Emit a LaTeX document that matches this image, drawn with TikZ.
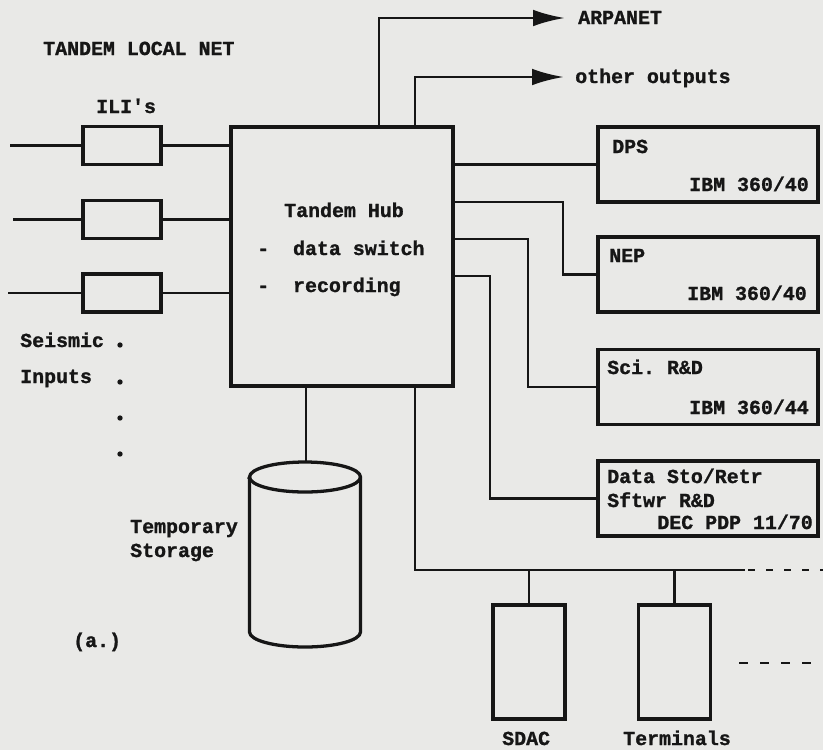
\documentclass[tikz,border=0pt]{standalone}
\usepackage{fontspec}
\setmonofont[BoldFeatures={FakeBold=1.2}]{Liberation Mono}
\usetikzlibrary{arrows.meta,positioning}
\definecolor{paper}{HTML}{E9E9E7}
\definecolor{ink}{HTML}{161616}

\begin{document}
\begin{tikzpicture}[x=0.03cm,y=-0.03cm,
      font=\ttfamily\bfseries\fontsize{17pt}{20pt}\selectfont,
      ln/.style={line width=2.5pt,draw=ink},
      b/.style={rectangle,draw=ink,line width=2.8pt,inner sep=0pt},
      ili/.style={b,minimum width=2.34cm,minimum height=1.14cm},
      sys/.style={b,minimum width=6.6cm,minimum height=2.25cm},
      dev/.style={b,minimum width=2.16cm,minimum height=3.42cm},
      t/.style={text=ink,inner sep=0pt,anchor=base west},
      tr/.style={t,anchor=base east},
      a/.style={ln,-{Latex[length=0.96cm,width=0.5cm]}}]
  \fill[paper] (0,0) rectangle (823,750);
  \useasboundingbox (0,0) rectangle (823,750);

  \node[t] (title) at (43,55) {TANDEM LOCAL NET};
  \node[t] (ilis)  at (96,113) {ILI's};
  \node[ili] (ili1) at (122,145.5) {};
  \node[ili] (ili2) at (122,219.5) {};
  \node[ili] (ili3) at (122,293) {};
  \coordinate (in1) at (ili1 -| 10,0);
  \coordinate (in2) at (ili2 -| 13,0);
  \coordinate (in3) at (ili3 -| 8,0);

  \node[b,line width=3pt,minimum width=6.66cm,minimum height=7.77cm] (hub) at (342,256.5) {};
  \node[t] (hubt) at (284,217) {Tandem Hub};
  \node[t] (sw)   at (257,255) {-~~data switch};
  \node[t] (rec)  at (257,292) {-~~recording};

  \draw[ln] (in1) -- (ili1) -- (ili1 -| hub.west);
  \draw[ln] (in2) -- (ili2) -- (ili2 -| hub.west);
  \draw[ln] (in3) -- (ili3) -- (ili3 -| hub.west);

  % outputs
  \node[t] (arpa) at (578,24) {ARPANET};
  \node[t] (oth)  at (575,83) {other outputs};
  \draw[a] (hub.north -| 379,0) |- ([shift={(-13,-6)}]arpa.base west);
  \draw[a] (hub.north -| 415,0) |- ([shift={(-11,-6)}]oth.base west);

  % host computers
  \node[sys] (dps) at (708,164.5) {};
  \node[sys] (nep) at (708,274.5) {};
  \node[sys] (sci) at (708,387) {};
  \node[sys] (dsr) at (708,498.5) {};
  \node[t]  (dpsn) at (612,153) {DPS};
  \node[tr] (dpsm) at (809,191) {IBM 360/40};
  \node[t]  (nepn) at (609,262) {NEP};
  \node[tr] (nepm) at (807,300) {IBM 360/40};
  \node[t]  (scin) at (607,374) {Sci. R\&D};
  \node[tr] (scim) at (809,414) {IBM 360/44};
  \node[t]  (dsrn) at (607,483) {Data Sto/Retr};
  \node[t]  (dsrs) at (607,507) {Sftwr R\&D};
  \node[tr] (dsrm) at (813,529) {DEC PDP 11/70};

  \draw[ln] (hub.east |- dps) -- (dps);
  \draw[ln] (hub.east |- 0,202) -| (563,0 |- nep) -- (nep);
  \draw[ln] (hub.east |- 0,239) -| (528,0 |- sci) -- (sci);
  \draw[ln] (hub.east |- 0,276) -| (490,0 |- dsr) -- (dsr);

  % local bus
  \coordinate (busend) at (745,570);
  \coordinate (busdot) at (823,570);
  \draw[ln] (hub.south -| 415,0) |- (busend);
  \draw[ln,dash pattern=on 0.21cm off 0.33cm] ([xshift=0.09cm]busend) -- (busdot);
  \node[dev] (sdac) at (529,662) {};
  \node[dev] (term) at (674.5,662) {};
  \draw[ln] (sdac) -- (sdac |- busend);
  \draw[ln] (term) -- (term |- busend);
  \node[t] (sdacl) at (502,745) {SDAC};
  \node[t] (terml) at (623,745) {Terminals};
  \coordinate (more1) at (739,663);
  \coordinate (more2) at (812,663);
  \draw[ln,dash pattern=on 0.27cm off 0.36cm] (more1) -- (more2);

  % temporary storage
  \coordinate (disk) at (306,462);
  \draw[ln] (hub.south -| disk) -- (disk);
  \draw[ln,line width=2.8pt] (249.5,477) -- (249.5,632)
     arc[start angle=180,end angle=360,x radius=1.665cm,y radius=0.45cm] -- (360.5,477)
     arc[start angle=0,end angle=180,x radius=1.665cm,y radius=0.45cm] -- cycle;
  \draw[ln,line width=2.8pt] (249.5,477) arc[start angle=180,end angle=360,x radius=1.665cm,y radius=0.45cm];
  \node[t] (tmp) at (130,533) {Temporary};
  \node[t] (sto) at (130,557) {Storage};

  % seismic inputs
  \node[t] (seis) at (20,347) {Seismic};
  \node[t] (inp)  at (20,383) {Inputs};
  \fill[ink] (120,345) circle[radius=0.08cm]; \fill[ink] (120,382) circle[radius=0.08cm];
  \fill[ink] (120,418) circle[radius=0.08cm]; \fill[ink] (120,454) circle[radius=0.08cm];
  \node[t] (fig) at (73,647) {(a.)};
\end{tikzpicture}
\end{document}
